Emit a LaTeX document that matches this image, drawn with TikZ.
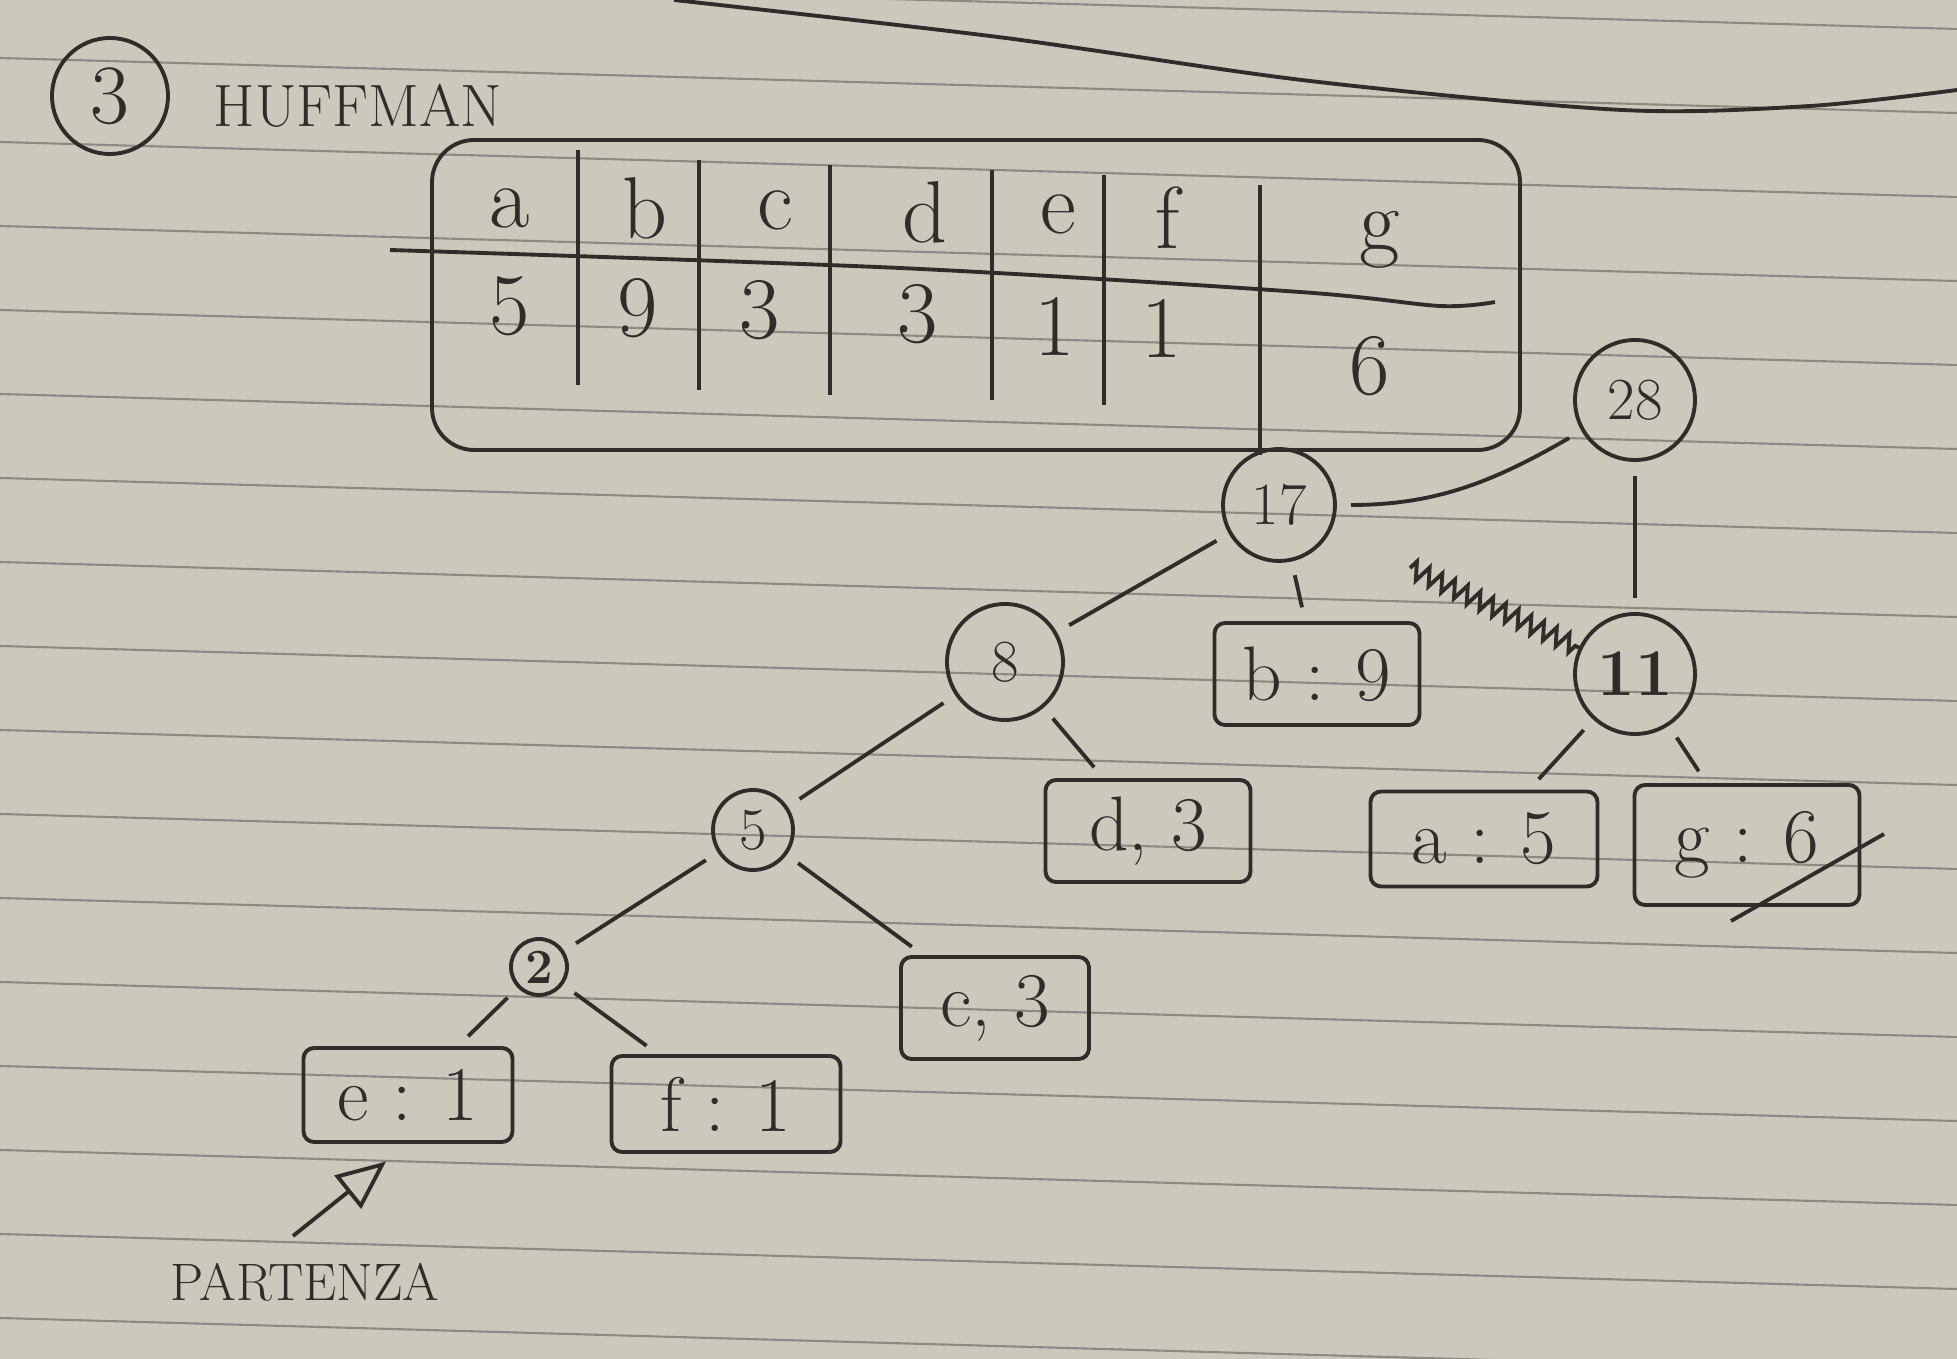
\documentclass[tikz,border=0pt]{standalone}
\usetikzlibrary{arrows.meta,decorations.pathmorphing}

\definecolor{paper}{RGB}{205,200,188}
\definecolor{ruling}{RGB}{142,138,130}
\definecolor{pen}{RGB}{48,44,42}

\begin{document}
\begin{tikzpicture}[x=0.1mm,y=-0.1mm,line width=1.1pt,
  sumnode/.style={draw=pen,circle,inner sep=0pt,text=pen,font=\fontsize{17}{19}\selectfont},
  leafbox/.style={draw=pen,rounded corners=3pt,minimum width=2.05cm,minimum height=1.02cm,text=pen,font=\fontsize{22}{26}\selectfont},
  cell/.style={text=pen,inner sep=1pt,font=\fontsize{25}{28}\selectfont},
  edge/.style={draw=pen,shorten <=4pt,shorten >=4pt}]
\useasboundingbox (0,0) rectangle (1957,1359);
\fill[paper] (0,0) rectangle (1957,1359);

% notebook ruling
\foreach \k in {-1,...,15}
  \draw[ruling,line width=0.6pt] (0,58+84*\k) -- (1957,113+84*\k);

% header
\node[draw=pen,circle,minimum size=1.16cm,inner sep=0pt,text=pen,font=\fontsize{24}{26}\selectfont] (num) at (110,96) {3};
\node[text=pen,font=\fontsize{17}{20}\selectfont,anchor=west] (title) at (200,106) {HUFFMAN};
\draw[pen] plot[smooth] coordinates {(674,0) (998,37) (1310,81) (1622,110) (1810,106) (1957,90)};

% frequency table
\draw[pen,rounded corners=12pt] (432,140) rectangle (1520,450);
\draw[pen] plot[smooth] coordinates {(390,250) (900,268) (1300,292) (1440,306) (1495,302)};
\draw[pen] (578,150) -- (578,385);
\draw[pen] (699,160) -- (699,390);
\draw[pen] (830,165) -- (830,395);
\draw[pen] (992,170) -- (992,400);
\draw[pen] (1104,175) -- (1104,405);
\node[cell] (ca) at (510,208) {a};
\node[cell] (cb) at (645,208) {b};
\node[cell] (cc) at (775,210) {c};
\node[cell] (cd) at (925,212) {d};
\node[cell] (ce) at (1058,214) {e};
\node[cell] (cf) at (1168,218) {f};
\node[cell] (cg) at (1380,240) {g};
\node[cell] (wa) at (510,306) {5};
\node[cell] (wb) at (638,308) {9};
\node[cell] (wc) at (760,310) {3};
\node[cell] (wd) at (918,314) {3};
\node[cell] (we) at (1055,326) {1};
\node[cell] (wf) at (1162,328) {1};
\node[cell] (wg) at (1370,366) {6};

% tree
\node[sumnode,minimum size=1.2cm] (n28) at (1635,400) {28};
\node[sumnode,minimum size=1.12cm] (n17) at (1279,505) {17};
\node[sumnode,minimum size=1.16cm] (n8) at (1005,662) {8};
\node[sumnode,minimum size=1.2cm,font=\fontsize{19}{21}\selectfont\bfseries] (n11) at (1635,674) {11};
\node[sumnode,minimum size=0.8cm] (n5) at (753,830) {5};
\node[sumnode,minimum size=0.56cm,font=\fontsize{14}{16}\selectfont\bfseries] (n2) at (539,967) {2};

\node[leafbox] (lb) at (1317,674) {b : 9};
\node[leafbox] (ld) at (1148,831) {d, 3};
\node[leafbox,minimum width=2.27cm,minimum height=0.95cm] (la) at (1484,839) {a : 5};
\node[leafbox,minimum width=2.25cm,minimum height=1.2cm] (lg) at (1747,845) {g : 6};
\node[leafbox,minimum width=1.88cm] (lc) at (995,1008) {c, 3};
\node[leafbox,minimum width=2.09cm,minimum height=0.94cm] (le) at (408,1095) {e : 1};
\node[leafbox,minimum width=2.29cm,minimum height=0.96cm] (lf) at (726,1104) {f : 1};

\draw[pen] (1260,185) -- (1260,455);
\draw[edge] (n17.east) to[out=0,in=-150] (n28);
\draw[edge] (n28) -- (n11);
\draw[edge] (n17) -- (n8);
\draw[edge] (n17) -- (lb);
\draw[edge] (n8) -- (n5);
\draw[edge] (n8) -- (ld);
\draw[edge] (n11) -- (la);
\draw[edge] (n11) -- (lg);
\draw[edge] (n5) -- (n2);
\draw[edge] (n5) -- (lc);
\draw[edge] (n2) -- (le);
\draw[edge] (n2) -- (lf);

% crossed out link
\coordinate (cut) at (1410,568);
\draw[pen,decorate,decoration={zigzag,segment length=4pt,amplitude=2.5pt}] (cut) -- (n11);
\draw[pen] (1731,921) -- (1884,834);

% start marker
\node[text=pen,font=\fontsize{15}{18}\selectfont] (start) at (305,1282) {PARTENZA};
\coordinate (tail) at (293,1236);
\draw[pen,-{Triangle[open,length=14pt,width=12pt]},shorten >=8pt] (tail) -- (le.south);
\end{tikzpicture}
\end{document}
